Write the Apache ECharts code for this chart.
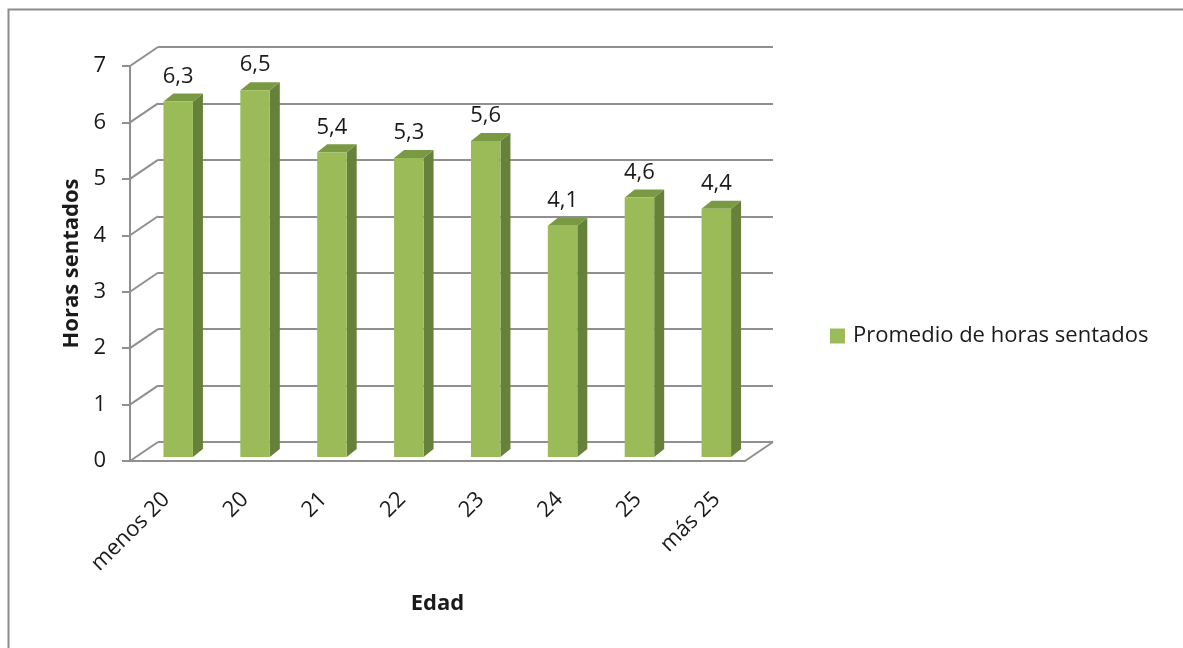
<!DOCTYPE html>
<html>
<head>
<meta charset="utf-8">
<script src="https://cdn.jsdelivr.net/npm/echarts@6/dist/echarts.min.js"></script>
<style>
html,body{margin:0;padding:0;background:#fff;}
#chart{width:1183px;height:648px;}
</style>
</head>
<body>
<div id="chart"></div>
<script>
const categories = ['menos 20', '20', '21', '22', '23', '24', '25', 'más 25'];
const values = [6.3, 6.5, 5.4, 5.3, 5.6, 4.1, 4.6, 4.4];
const yTicks = [0, 1, 2, 3, 4, 5, 6, 7];
const seriesName = 'Promedio de horas sentados';
const yAxisTitle = 'Horas sentados';
const xAxisTitle = 'Edad';

const FONT = '"Open Sans", sans-serif';
const FS = 22;
const TXT = '#1a1a1a';
const GRID_COLOR = '#8f8f8f';
const DEPTH_X = 28, DEPTH_Y = -19;

const chart = echarts.init(document.getElementById('chart'), null, {renderer: 'canvas'});

function fmt(v) { return v.toFixed(1).replace('.', ','); }

const option = {
  animation: false,
  color: ['#9BBB59'],
  graphic: [{
    type: 'rect', z: -10,
    shape: {x: 8.5, y: 9.5, width: 1400, height: 900},
    style: {fill: '#fff', stroke: '#8c8c8c', lineWidth: 2}
  }],
  legend: {
    data: [seriesName],
    left: 830, top: 325, padding: 0,
    icon: 'rect', itemWidth: 15, itemHeight: 15, itemGap: 10,
    textStyle: {fontFamily: FONT, fontSize: FS, color: TXT, padding: [0, 0, 0, 3]}
  },
  grid: [
    {left: 130, right: 438, top: 66, bottom: 187},          // front plane
    {left: 158, right: 410, top: 47, bottom: 206},          // back wall
    {left: 127, right: 427, top: 66, bottom: 187}           // label placement
  ],
  xAxis: [
    {
      gridIndex: 0, type: 'category', data: categories,
      axisLine: {show: true, lineStyle: {color: GRID_COLOR, width: 2}},
      axisTick: {show: false}, axisLabel: {show: false},
      name: xAxisTitle, nameLocation: 'middle', nameGap: 132,
      nameTextStyle: {fontFamily: FONT, fontSize: FS, fontWeight: 'bold', color: TXT}
    },
    {
      gridIndex: 1, type: 'category', data: categories, show: false
    },
    {
      gridIndex: 2, type: 'category', data: categories,
      axisLine: {show: false}, axisTick: {show: false},
      axisLabel: {rotate: 45, margin: 35, fontFamily: FONT, fontSize: FS, color: TXT, interval: 0}
    }
  ],
  yAxis: [
    {
      gridIndex: 0, type: 'value', min: 0, max: 7, interval: 1,
      axisLine: {show: true, lineStyle: {color: GRID_COLOR, width: 2}},
      axisTick: {show: true, inside: false, length: 8, lineStyle: {color: GRID_COLOR, width: 2}},
      splitLine: {show: false},
      axisLabel: {margin: 24, fontFamily: FONT, fontSize: FS, color: TXT},
      name: yAxisTitle, nameLocation: 'middle', nameGap: 46, nameRotate: 90,
      nameTextStyle: {fontFamily: FONT, fontSize: FS, fontWeight: 'bold', color: TXT}
    },
    {
      gridIndex: 1, type: 'value', min: 0, max: 7, interval: 1,
      axisLine: {show: false}, axisTick: {show: false}, axisLabel: {show: false},
      splitLine: {show: true, lineStyle: {color: GRID_COLOR, width: 2}}
    },
    {
      gridIndex: 2, type: 'value', min: 0, max: 7, interval: 1, show: false,
      splitLine: {show: false}
    }
  ],
  series: [
    {
      name: 'wall-edges', type: 'custom', xAxisIndex: 0, yAxisIndex: 0, z: 1,
      silent: true,
      data: yTicks.map(t => [0, t]),
      renderItem: function (params, api) {
        const cs = params.coordSys;
        const p = api.coord([0, api.value(1)]);
        const x0 = cs.x;
        const children = [{
          type: 'line',
          shape: {x1: x0, y1: p[1], x2: x0 + DEPTH_X, y2: p[1] + DEPTH_Y},
          style: {stroke: GRID_COLOR, lineWidth: 2}
        }];
        if (api.value(1) === 0) {
          const xr = cs.x + cs.width;
          children.push({
            type: 'line',
            shape: {x1: xr, y1: p[1], x2: xr + DEPTH_X, y2: p[1] + DEPTH_Y},
            style: {stroke: GRID_COLOR, lineWidth: 2}
          });
        }
        return {type: 'group', children: children};
      }
    },
    {
      name: seriesName, type: 'custom', xAxisIndex: 0, yAxisIndex: 0, z: 5,
      itemStyle: {color: '#9BBB59'},
      data: values.map((v, i) => [i, v]),
      renderItem: function (params, api) {
        const p = api.coord([api.value(0), api.value(1)]);
        const z = api.coord([api.value(0), 0]);
        const cx = p[0];
        const x0 = cx - 5, x1 = cx + 24.5;
        const top = p[1] - 4, bot = z[1] - 4;
        const dx = 10, dy = -8;
        return {
          type: 'group',
          children: [
            {type: 'polygon', shape: {points: [[x1, top], [x1 + dx, top + dy], [x1 + dx, bot + dy], [x1, bot]]},
             style: {fill: '#66823A'}},
            {type: 'polygon', shape: {points: [[x0, top], [x0 + dx, top + dy], [x1 + dx, top + dy], [x1, top]]},
             style: {fill: '#7A9943'}},
            {type: 'rect', shape: {x: x0, y: top, width: x1 - x0, height: bot - top},
             style: {fill: '#9BBB59'}},
            {type: 'text', x: (x0 + x1) / 2, y: top + dy - 17,
             style: {text: fmt(api.value(1)), fontFamily: FONT, fontSize: FS, fill: TXT,
                     align: 'center', verticalAlign: 'middle'}}
          ]
        };
      }
    }
  ]
};
chart.setOption(option);
</script>
</body>
</html>
